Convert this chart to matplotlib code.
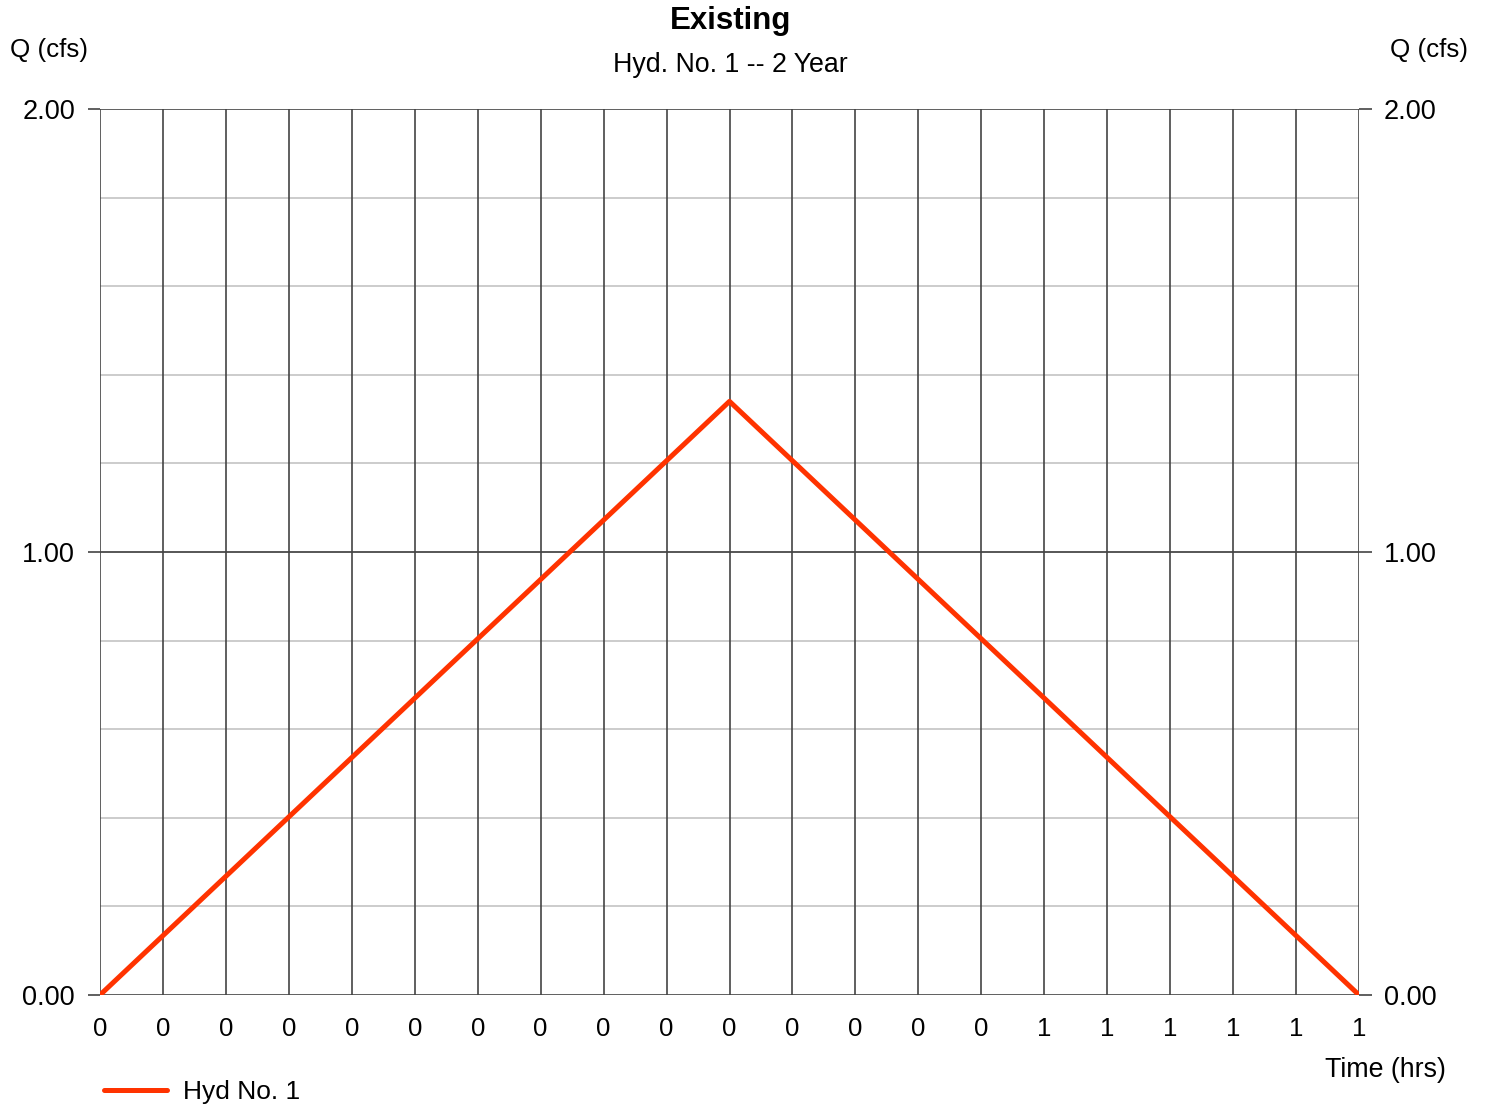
import matplotlib.pyplot as plt
import numpy as np

plt.rcParams['font.family'] = ['Liberation Sans', 'DejaVu Sans']

# hydrograph data
time_hrs = [0.0, 0.35, 0.70]
q_cfs = [0.0, 1.34, 0.0]
x_ticks = np.linspace(0, 0.70, 21)
y_major = [0.0, 1.0, 2.0]
y_minor = np.arange(0.2, 2.0, 0.2)

fig = plt.figure(figsize=(14.88, 11.06), dpi=100)
ax = fig.add_axes([100 / 1488, 1 - 995 / 1106, 1259 / 1488, 886 / 1106])

ax.set_xlim(0, 0.70)
ax.set_ylim(0, 2.0)

for y in y_minor:
    ax.axhline(y, color='#c8c8c8', lw=1.3, zorder=1)
for y in y_major:
    ax.axhline(y, color='#444444', lw=1.2, zorder=2)
for x in x_ticks:
    ax.axvline(x, color='#444444', lw=1.2, zorder=2)

ax.plot(time_hrs, q_cfs, color='#ff3300', lw=3.6, zorder=3,
        solid_capstyle='round', label='Hyd No. 1')

for s in ax.spines.values():
    s.set_visible(False)

ax.set_xticks(x_ticks)
ax.set_xticklabels(['%.0f' % v for v in x_ticks])
ax.tick_params(axis='x', length=0, pad=16, labelsize=18.5)
ax.set_yticks(y_major)
ax.set_yticklabels(['%.2f' % v for v in y_major])
ax.tick_params(axis='y', which='both', left=True, right=True,
               labelleft=True, labelright=True, length=9, width=1.2,
               color='#444444', pad=9, labelsize=19.5)

fig.text(731 / 1488, 1 - 21 / 1106, 'Existing', ha='center', va='center',
         fontsize=22.5, fontweight='bold')
fig.text(730 / 1488, 1 - 65 / 1106, 'Hyd. No. 1 -- 2 Year', ha='center',
         va='center', fontsize=19.3)
fig.text(49 / 1488, 1 - 50 / 1106, 'Q (cfs)', ha='center', va='center',
         fontsize=18.7)
fig.text(1429 / 1488, 1 - 50 / 1106, 'Q (cfs)', ha='center', va='center',
         fontsize=18.7)
fig.text(1385 / 1488, 1 - 1070 / 1106, 'Time (hrs)', ha='center',
         va='center', fontsize=19.3)

fig.legend(loc='center left', bbox_to_anchor=(80 / 1488, 1 - 1092 / 1106),
           frameon=False, fontsize=19, handlelength=2.4, handletextpad=0.6)

fig.savefig('out.png', dpi=100, facecolor='white')
